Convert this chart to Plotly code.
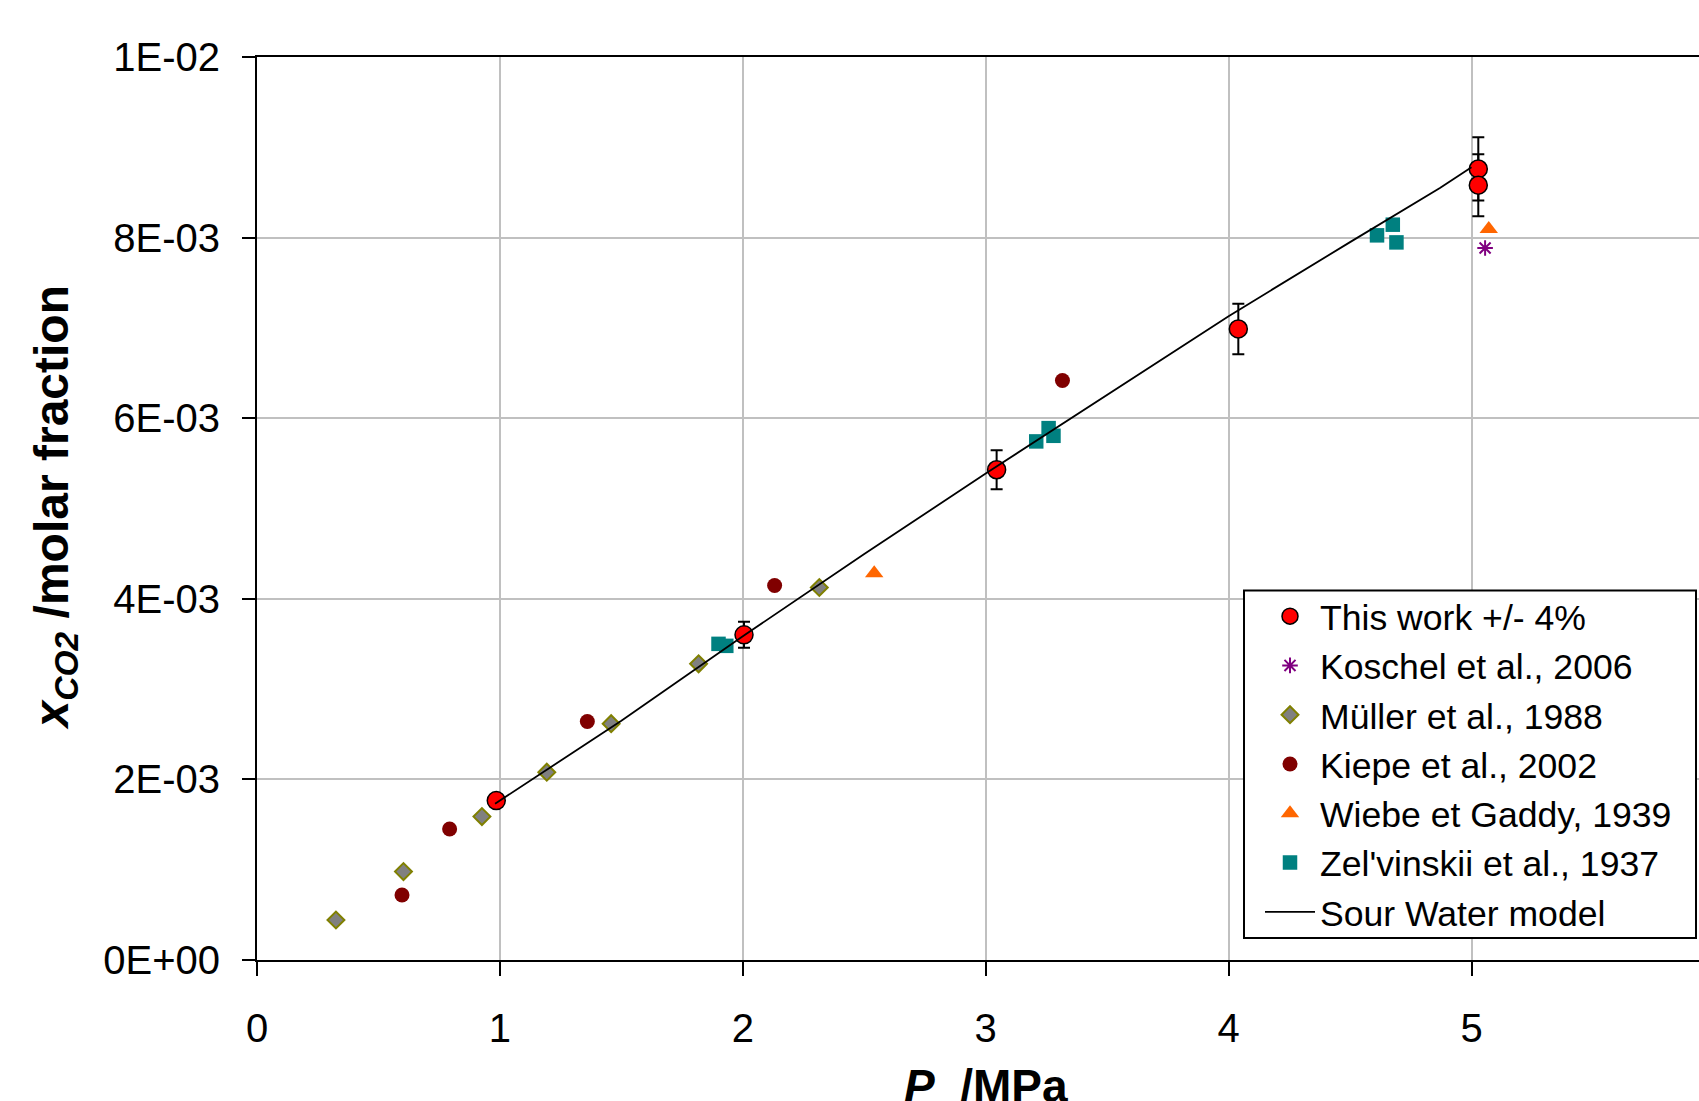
import plotly.graph_objects as go

# ---- data ----
this_x = [0.985, 2.005, 3.045, 4.04, 5.028, 5.028]
this_y = [0.001765, 0.003601, 0.005429, 0.006988, 0.00876, 0.00858]

koschel_x = [5.056]
koschel_y = [0.007885]

muller_x = [0.325, 0.603, 0.926, 1.193, 1.458, 1.818, 2.315]
muller_y = [0.000443, 0.000979, 0.001588, 0.00208, 0.002617, 0.00328, 0.004125]

kiepe_x = [0.597, 0.793, 1.36, 2.131, 3.316]
kiepe_y = [0.00072, 0.001451, 0.002641, 0.004147, 0.006418]

wiebe_x = [2.541, 5.071]
wiebe_y = [0.004284, 0.008095]

zel_x = [1.90, 1.932, 3.208, 3.259, 3.279, 4.611, 4.676, 4.691]
zel_y = [0.003501, 0.003479, 0.005743, 0.00589, 0.005805, 0.008025, 0.008143, 0.007947]

model_x = [0.98, 1.5, 2.0, 2.5, 3.0, 3.5, 4.0, 4.5, 4.87, 5.0]
model_y = [0.00173, 0.00265, 0.003585, 0.004496, 0.005387, 0.006254, 0.00713, 0.00795, 0.00855, 0.00878]

y_tickvals = [0, 0.002, 0.004, 0.006, 0.008, 0.010]
y_ticktext = ["0E+00", "2E-03", "4E-03", "6E-03", "8E-03", "1E-02"]
x_tickvals = [0, 1, 2, 3, 4, 5]
x_ticktext = ["0", "1", "2", "3", "4", "5"]

FONT = "Arial, 'Liberation Sans', sans-serif"

# plot-area geometry in pixels
L, T, B = 257, 57, 960
W_FIG, H_FIG = 1699, 1101
PW, PH = W_FIG - L, B - T


def px_x(p):
    return (p - L) / PW


def px_y(p):
    return (B - p) / PH


fig = go.Figure()

fig.add_trace(go.Scatter(
    x=muller_x, y=muller_y, mode="markers", name="Müller et al., 1988",
    legendgroup="g3", legendrank=3,
    marker=dict(symbol="diamond", size=13, color="#808080",
                line=dict(color="#808000", width=2))))
fig.add_trace(go.Scatter(
    x=kiepe_x, y=kiepe_y, mode="markers", name="Kiepe et al., 2002",
    legendgroup="g4", legendrank=4,
    marker=dict(symbol="circle", size=15, color="#800000",
                line=dict(width=0))))
fig.add_trace(go.Scatter(
    x=wiebe_x, y=wiebe_y, mode="markers", name="Wiebe et Gaddy, 1939",
    legendgroup="g5", legendrank=5,
    marker=dict(symbol="triangle-up", size=16, color="#FF6600",
                line=dict(width=0))))
fig.add_trace(go.Scatter(
    x=zel_x, y=zel_y, mode="markers", name="Zel'vinskii et al., 1937",
    legendgroup="g6", legendrank=6,
    marker=dict(symbol="square", size=14.5, color="#008080",
                line=dict(width=0))))
fig.add_trace(go.Scatter(
    x=koschel_x, y=koschel_y, mode="markers", name="Koschel et al., 2006",
    legendgroup="g2", legendrank=2,
    marker=dict(symbol="asterisk-open", size=13, color="#800080",
                line=dict(color="#800080", width=2))))
fig.add_trace(go.Scatter(
    x=this_x, y=this_y, mode="markers", name="This work +/- 4%",
    legendgroup="g1", legendrank=1,
    error_y=dict(type="percent", value=4, color="black", thickness=2, width=6),
    marker=dict(symbol="circle", size=18, color="#FF0000",
                line=dict(color="black", width=1.5))))
fig.add_trace(go.Scatter(
    x=model_x, y=model_y, mode="lines", name="Sour Water model",
    legendgroup="g7", legendrank=7,
    line=dict(color="black", width=1.8)))

fig.update_layout(
    width=W_FIG, height=H_FIG,
    margin=dict(l=L, r=0, t=T, b=H_FIG - B, autoexpand=False),
    paper_bgcolor="white", plot_bgcolor="white",
    font=dict(family=FONT, color="black"),
    showlegend=True,
    legend=dict(
        x=px_x(1260), y=px_y(586.5),
        xref="paper", yref="paper", xanchor="left", yanchor="top",
        bgcolor="rgba(0,0,0,0)", borderwidth=0,
        font=dict(family=FONT, size=35.6, color="black"),
        traceorder="grouped", tracegroupgap=0, itemwidth=50,
    ),
    shapes=[
        dict(type="rect", xref="paper", yref="paper",
             x0=px_x(1244), x1=px_x(1696), y0=px_y(938), y1=px_y(590.5),
             fillcolor="white", line=dict(color="black", width=2), layer="above"),
    ],
    xaxis=dict(
        range=[0, PW / 242.9], tickvals=x_tickvals, ticktext=x_ticktext,
        showgrid=True, gridcolor="#c0c0c0", gridwidth=1.5,
        showline=True, linecolor="black", linewidth=2, mirror=True,
        ticks="outside", ticklen=14, tickwidth=1.5, tickcolor="black",
        tickfont=dict(family=FONT, size=40, color="black"),
        ticklabelstandoff=18, zeroline=False, automargin=False,
    ),
    yaxis=dict(
        range=[0, 0.010], tickvals=y_tickvals, ticktext=y_ticktext,
        showgrid=True, gridcolor="#c0c0c0", gridwidth=1.5,
        showline=True, linecolor="black", linewidth=2,
        ticks="outside", ticklen=13, tickwidth=1.5, tickcolor="black",
        tickfont=dict(family=FONT, size=40, color="black"),
        ticklabelstandoff=14, zeroline=False, automargin=False,
    ),
    annotations=[
        dict(text="<b><i>x<sub>CO2</sub></i> /molar fraction</b>",
             xref="paper", yref="paper", x=px_x(54), y=0.5,
             xanchor="center", yanchor="middle", textangle=-90,
             showarrow=False, font=dict(family=FONT, size=48, color="black")),
        dict(text="<b><i>P</i>  /MPa</b>",
             xref="x", yref="paper", x=3.0, y=-0.1086,
             xanchor="center", yanchor="top",
             showarrow=False, font=dict(family=FONT, size=46, color="black")),
    ],
)

fig.write_html("out.html", config={"displayModeBar": False},
               post_script="document.body.style.margin='0px';")
